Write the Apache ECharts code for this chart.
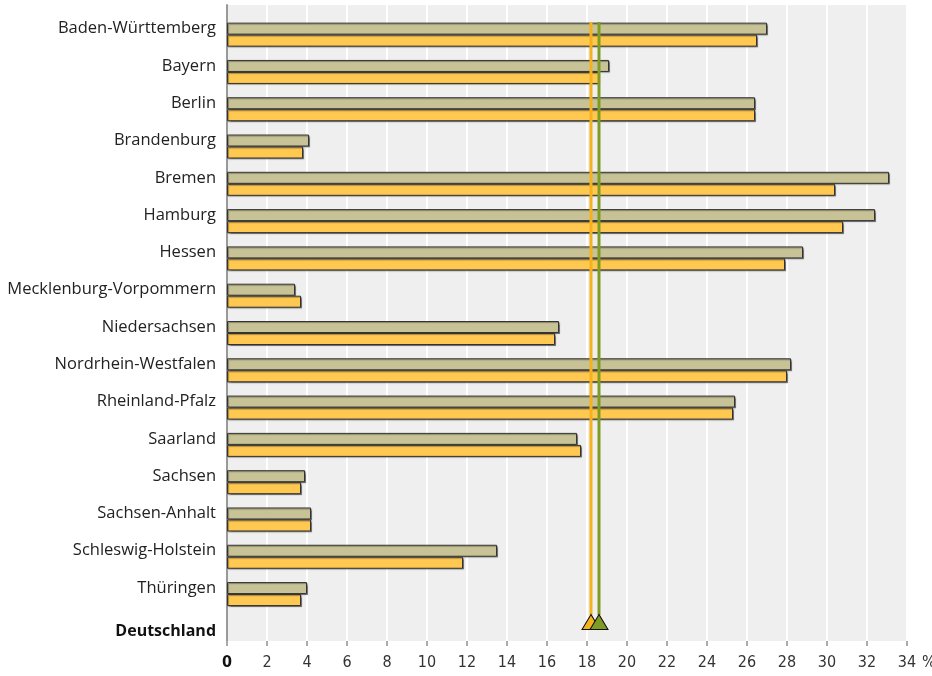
<!DOCTYPE html>
<html>
<head>
<meta charset="utf-8">
<script src="https://cdn.jsdelivr.net/npm/echarts@6/dist/echarts.min.js"></script>
<style>
html,body{margin:0;padding:0;background:#fff;}
#chart{width:932px;height:676px;}
</style>
</head>
<body>
<div id="chart"></div>
<script>
var categories = ["Baden-Württemberg","Bayern","Berlin","Brandenburg","Bremen","Hamburg","Hessen","Mecklenburg-Vorpommern","Niedersachsen","Nordrhein-Westfalen","Rheinland-Pfalz","Saarland","Sachsen","Sachsen-Anhalt","Schleswig-Holstein","Thüringen","Deutschland"];
var valuesA = [27.0,19.1,26.4,4.1,33.1,32.4,28.8,3.4,16.6,28.2,25.4,17.5,3.9,4.2,13.5,4.0,null];
var valuesB = [26.5,18.6,26.4,3.8,30.4,30.8,27.9,3.7,16.4,28.0,25.3,17.7,3.7,4.2,11.8,3.7,null];
var germanyA = 18.6;
var germanyB = 18.2;
var xTicks = [0,2,4,6,8,10,12,14,16,18,20,22,24,26,28,30,32,34];

var colA = '#c8c396', colB = '#ffc851', lineA = '#7f9b23', lineB = '#f5b21e';
var n = categories.length;
// positions on a helper axis measured in category bands (0..n)
var lineTop = 0.16, lineBottom = n - 1 + 0.06, triPos = n - 1 + 0.25;

var chart = echarts.init(document.getElementById('chart'));
var font = "'Open Sans', 'Noto Sans', sans-serif";
var tickFont = "'Liberation Sans Narrow', 'DejaVu Sans Condensed', sans-serif";
chart.setOption({
  animation: false,
  grid: [
    {left: 227, top: 5, width: 680, height: 636, show: true, backgroundColor: '#efefef', borderWidth: 0, outerBoundsMode: 'none', containLabel: false},
    {left: 227, top: 16, width: 680, height: 634, outerBoundsMode: 'none', containLabel: false}
  ],
  xAxis: [
    {gridIndex: 0, type: 'value', min: 0, max: 34, interval: 2,
     splitLine: {show: true, lineStyle: {color: '#ffffff', width: 2}},
     axisLine: {show: false},
     axisTick: {show: true, length: 5, lineStyle: {color: '#aaaaaa', width: 2}},
     axisLabel: {margin: 14, fontFamily: tickFont, fontSize: 16, color: '#333',
       formatter: function(v){ return xTicks.indexOf(v) === 0 ? '{b|' + v + '}' : String(v); },
       rich: {b: {fontFamily: tickFont, fontSize: 16, fontWeight: 'bold', color: '#111'}}},
     name: '%', nameLocation: 'end', nameGap: 10,
     nameTextStyle: {fontFamily: tickFont, fontSize: 16, color: '#333', verticalAlign: 'top', padding: [14,0,0,0]}},
    {gridIndex: 1, type: 'value', min: 0, max: 34, show: false}
  ],
  yAxis: [
    {gridIndex: 0, type: 'value', min: 0, max: 1, axisLabel: {show: false}, splitLine: {show: false},
     axisTick: {show: false}, axisLine: {show: true, lineStyle: {color: '#999', width: 2}}},
    {gridIndex: 1, type: 'category', data: categories, inverse: true,
     axisLine: {show: false}, axisTick: {show: false},
     axisLabel: {margin: 11, fontFamily: font, fontSize: 16.5, color: '#222',
       formatter: function(v){ return v === 'Deutschland' ? '{b|' + v + '}' : '{n|' + v + '}'; },
       rich: {
         n: {fontFamily: font, fontSize: 16.5, color: '#222', padding: [0,0,12,0]},
         b: {fontFamily: font, fontSize: 16, fontWeight: 'bold', color: '#111'}}}},
    {gridIndex: 1, type: 'value', min: 0, max: n, inverse: true, show: false}
  ],
  series: [
    {type: 'bar', xAxisIndex: 1, yAxisIndex: 1, data: valuesA, barWidth: 12, barGap: '0%',
     itemStyle: {color: colA, borderColor: '#333', borderWidth: 1, shadowColor: 'rgba(0,0,0,0.35)', shadowOffsetX: 1, shadowOffsetY: 1, shadowBlur: 1}},
    {type: 'bar', xAxisIndex: 1, yAxisIndex: 1, data: valuesB, barWidth: 12, barGap: '0%',
     itemStyle: {color: colB, borderColor: '#333', borderWidth: 1, shadowColor: 'rgba(0,0,0,0.35)', shadowOffsetX: 1, shadowOffsetY: 1, shadowBlur: 1}},
    {type: 'line', xAxisIndex: 1, yAxisIndex: 2, data: [[germanyB, lineTop], [germanyB, lineBottom]],
     symbol: 'none', lineStyle: {color: lineB, width: 3}, z: 5},
    {type: 'line', xAxisIndex: 1, yAxisIndex: 2, data: [[germanyA, lineTop], [germanyA, lineBottom]],
     symbol: 'none', lineStyle: {color: lineA, width: 3}, z: 5},
    {type: 'scatter', xAxisIndex: 1, yAxisIndex: 2, data: [[germanyB, triPos]], symbol: 'triangle', symbolSize: [18, 15],
     itemStyle: {color: lineB, borderColor: '#111', borderWidth: 1, opacity: 1}, z: 6},
    {type: 'scatter', xAxisIndex: 1, yAxisIndex: 2, data: [[germanyA, triPos]], symbol: 'triangle', symbolSize: [18, 15],
     itemStyle: {color: lineA, borderColor: '#111', borderWidth: 1, opacity: 1}, z: 7}
  ]
});
</script>
</body>
</html>
